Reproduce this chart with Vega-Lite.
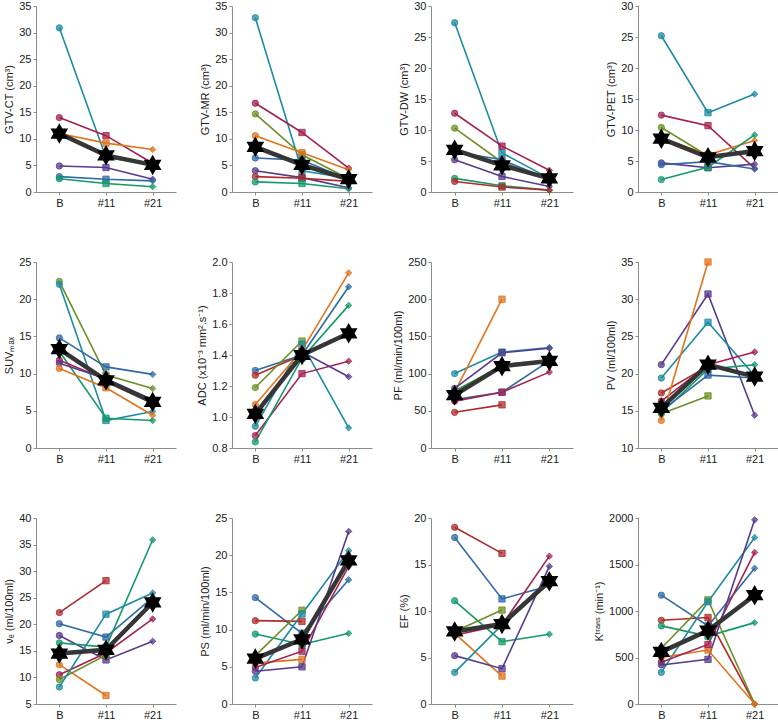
{
"$schema": "https://vega.github.io/schema/vega-lite/v6.json",
"padding": {"left": 3, "top": 0, "right": 0, "bottom": 0},
"background": "white",
"config": {
  "view": {"stroke": null},
  "font": "Liberation Sans",
  "legend": {"disable": true},
  "range": {"category": ["#2e6aa5", "#1d8ca0", "#a3224f", "#e0741c", "#6c8f25", "#139a68", "#573a8c", "#b02a2a"]},
  "axis": {"grid": false, "labelFont": "Liberation Sans", "titleFont": "Liberation Sans", "labelFontSize": 11, "titleFontSize": 11, "titleFontWeight": "normal", "domainColor": "#8c8c8c", "tickColor": "#8c8c8c", "tickSize": 3, "labelColor": "#1a1a1a", "titleColor": "#1a1a1a", "labelPadding": 2, "titlePadding": 4}
},
"datasets": {
  "ct": [
    {"s":"P2","t":"B","v":30.9},{"s":"P2","t":"#11","v":6.5},{"s":"P2","t":"#21","v":5.2},
    {"s":"P3","t":"B","v":14.0},{"s":"P3","t":"#11","v":10.6},{"s":"P3","t":"#21","v":5.4},
    {"s":"P4","t":"B","v":11.0},{"s":"P4","t":"#11","v":9.2},{"s":"P4","t":"#21","v":8.0},
    {"s":"P7","t":"B","v":4.9},{"s":"P7","t":"#11","v":4.6},{"s":"P7","t":"#21","v":2.4},
    {"s":"P1","t":"B","v":2.9},{"s":"P1","t":"#11","v":2.4},{"s":"P1","t":"#21","v":2.1},
    {"s":"P6","t":"B","v":2.5},{"s":"P6","t":"#11","v":1.6},{"s":"P6","t":"#21","v":1.0},
    {"s":"M","t":"B","v":11.0},{"s":"M","t":"#11","v":6.9},{"s":"M","t":"#21","v":5.1}
  ],
  "mr": [
    {"s":"P2","t":"B","v":32.8},{"s":"P2","t":"#11","v":4.0},{"s":"P2","t":"#21","v":2.6},
    {"s":"P3","t":"B","v":16.7},{"s":"P3","t":"#11","v":11.2},{"s":"P3","t":"#21","v":4.5},
    {"s":"P5","t":"B","v":14.7},{"s":"P5","t":"#11","v":7.0},{"s":"P5","t":"#21","v":2.5},
    {"s":"P4","t":"B","v":10.6},{"s":"P4","t":"#11","v":7.4},{"s":"P4","t":"#21","v":4.2},
    {"s":"P1","t":"B","v":6.4},{"s":"P1","t":"#11","v":6.0},{"s":"P1","t":"#21","v":2.3},
    {"s":"P7","t":"B","v":4.0},{"s":"P7","t":"#11","v":2.7},{"s":"P7","t":"#21","v":0.8},
    {"s":"P8","t":"B","v":2.9},{"s":"P8","t":"#11","v":2.6},{"s":"P8","t":"#21","v":2.0},
    {"s":"P6","t":"B","v":1.9},{"s":"P6","t":"#11","v":1.6},{"s":"P6","t":"#21","v":0.6},
    {"s":"M","t":"B","v":8.5},{"s":"M","t":"#11","v":5.1},{"s":"M","t":"#21","v":2.4}
  ],
  "dw": [
    {"s":"P2","t":"B","v":27.3},{"s":"P2","t":"#11","v":6.3},{"s":"P2","t":"#21","v":2.2},
    {"s":"P3","t":"B","v":12.7},{"s":"P3","t":"#11","v":7.4},{"s":"P3","t":"#21","v":3.5},
    {"s":"P5","t":"B","v":10.3},{"s":"P5","t":"#11","v":4.8},{"s":"P5","t":"#21","v":2.2},
    {"s":"P4","t":"B","v":6.7},{"s":"P4","t":"#11","v":4.5},{"s":"P4","t":"#21","v":2.2},
    {"s":"P1","t":"B","v":6.5},{"s":"P1","t":"#11","v":5.2},{"s":"P1","t":"#21","v":2.0},
    {"s":"P7","t":"B","v":5.2},{"s":"P7","t":"#11","v":2.5},{"s":"P7","t":"#21","v":0.9},
    {"s":"P6","t":"B","v":2.2},{"s":"P6","t":"#11","v":1.0},{"s":"P6","t":"#21","v":0.3},
    {"s":"P8","t":"B","v":1.7},{"s":"P8","t":"#11","v":0.8},{"s":"P8","t":"#21","v":0.3},
    {"s":"M","t":"B","v":6.8},{"s":"M","t":"#11","v":4.3},{"s":"M","t":"#21","v":2.2}
  ],
  "pet": [
    {"s":"P2","t":"B","v":25.2},{"s":"P2","t":"#11","v":12.8},{"s":"P2","t":"#21","v":15.8},
    {"s":"P3","t":"B","v":12.4},{"s":"P3","t":"#11","v":10.7},{"s":"P3","t":"#21","v":3.8},
    {"s":"P5","t":"B","v":10.4},{"s":"P5","t":"#11","v":5.8},{"s":"P5","t":"#21","v":6.3},
    {"s":"P4","t":"B","v":8.8},{"s":"P4","t":"#11","v":6.0},{"s":"P4","t":"#21","v":8.3},
    {"s":"P7","t":"B","v":4.7},{"s":"P7","t":"#11","v":3.9},{"s":"P7","t":"#21","v":4.5},
    {"s":"P1","t":"B","v":4.4},{"s":"P1","t":"#11","v":4.9},{"s":"P1","t":"#21","v":3.7},
    {"s":"P6","t":"B","v":2.0},{"s":"P6","t":"#11","v":4.0},{"s":"P6","t":"#21","v":9.2},
    {"s":"M","t":"B","v":8.6},{"s":"M","t":"#11","v":5.6},{"s":"M","t":"#21","v":6.6}
  ],
  "suv": [
    {"s":"P5","t":"B","v":22.4},{"s":"P5","t":"#11","v":9.8},{"s":"P5","t":"#21","v":8.0},
    {"s":"P2","t":"B","v":22.0},{"s":"P2","t":"#11","v":3.7},{"s":"P2","t":"#21","v":4.9},
    {"s":"P1","t":"B","v":14.8},{"s":"P1","t":"#11","v":10.9},{"s":"P1","t":"#21","v":9.9},
    {"s":"P6","t":"B","v":13.0},{"s":"P6","t":"#11","v":4.0},{"s":"P6","t":"#21","v":3.7},
    {"s":"P3","t":"B","v":11.8},{"s":"P3","t":"#11","v":9.2},{"s":"P3","t":"#21","v":6.3},
    {"s":"P7","t":"B","v":11.4},{"s":"P7","t":"#11","v":9.3},{"s":"P7","t":"#21","v":6.5},
    {"s":"P4","t":"B","v":10.7},{"s":"P4","t":"#11","v":8.1},{"s":"P4","t":"#21","v":4.4},
    {"s":"M","t":"B","v":13.3},{"s":"M","t":"#11","v":9.1},{"s":"M","t":"#21","v":6.2}
  ],
  "adc": [
    {"s":"P1","t":"B","v":1.30},{"s":"P1","t":"#11","v":1.40},{"s":"P1","t":"#21","v":1.84},
    {"s":"P8","t":"B","v":1.27},{"s":"P8","t":"#11","v":1.40},
    {"s":"P5","t":"B","v":1.19},{"s":"P5","t":"#11","v":1.49},
    {"s":"P2","t":"B","v":0.94},{"s":"P2","t":"#11","v":1.47},{"s":"P2","t":"#21","v":0.93},
    {"s":"P3","t":"B","v":0.88},{"s":"P3","t":"#11","v":1.28},{"s":"P3","t":"#21","v":1.36},
    {"s":"P6","t":"B","v":0.84},{"s":"P6","t":"#11","v":1.38},{"s":"P6","t":"#21","v":1.72},
    {"s":"P4","t":"B","v":1.08},{"s":"P4","t":"#11","v":1.43},{"s":"P4","t":"#21","v":1.93},
    {"s":"P7","t":"B","v":1.00},{"s":"P7","t":"#11","v":1.42},{"s":"P7","t":"#21","v":1.26},
    {"s":"M","t":"B","v":1.02},{"s":"M","t":"#11","v":1.40},{"s":"M","t":"#21","v":1.54}
  ],
  "pf": [
    {"s":"P2","t":"B","v":100},{"s":"P2","t":"#11","v":129},{"s":"P2","t":"#21","v":135},
    {"s":"P4","t":"B","v":75},{"s":"P4","t":"#11","v":200},
    {"s":"P7","t":"B","v":80},{"s":"P7","t":"#11","v":128},{"s":"P7","t":"#21","v":134},
    {"s":"P5","t":"B","v":77},{"s":"P5","t":"#11","v":110},
    {"s":"P6","t":"B","v":75},{"s":"P6","t":"#11","v":112},{"s":"P6","t":"#21","v":118},
    {"s":"P1","t":"B","v":65},{"s":"P1","t":"#11","v":75},{"s":"P1","t":"#21","v":117},
    {"s":"P3","t":"B","v":63},{"s":"P3","t":"#11","v":75},{"s":"P3","t":"#21","v":102},
    {"s":"P8","t":"B","v":48},{"s":"P8","t":"#11","v":58},
    {"s":"M","t":"B","v":71},{"s":"M","t":"#11","v":110},{"s":"M","t":"#21","v":117}
  ],
  "pv": [
    {"s":"P7","t":"B","v":21.2},{"s":"P7","t":"#11","v":30.7},{"s":"P7","t":"#21","v":14.4},
    {"s":"P2","t":"B","v":19.4},{"s":"P2","t":"#11","v":26.9},{"s":"P2","t":"#21","v":19.7},
    {"s":"P8","t":"B","v":17.4},{"s":"P8","t":"#11","v":21.0},
    {"s":"P3","t":"B","v":16.3},{"s":"P3","t":"#11","v":21.2},{"s":"P3","t":"#21","v":22.9},
    {"s":"P6","t":"B","v":14.7},{"s":"P6","t":"#11","v":20.6},{"s":"P6","t":"#21","v":21.2},
    {"s":"P1","t":"B","v":15.0},{"s":"P1","t":"#11","v":19.8},{"s":"P1","t":"#21","v":19.4},
    {"s":"P5","t":"B","v":14.6},{"s":"P5","t":"#11","v":17.0},
    {"s":"P4","t":"B","v":13.7},{"s":"P4","t":"#11","v":35.0},
    {"s":"M","t":"B","v":15.4},{"s":"M","t":"#11","v":21.2},{"s":"M","t":"#21","v":19.6}
  ],
  "ve": [
    {"s":"P8","t":"B","v":22.2},{"s":"P8","t":"#11","v":28.2},
    {"s":"P1","t":"B","v":20.1},{"s":"P1","t":"#11","v":17.6},{"s":"P1","t":"#21","v":25.0},
    {"s":"P7","t":"B","v":17.9},{"s":"P7","t":"#11","v":13.3},{"s":"P7","t":"#21","v":16.8},
    {"s":"P6","t":"B","v":16.5},{"s":"P6","t":"#11","v":15.7},{"s":"P6","t":"#21","v":35.9},
    {"s":"P4","t":"B","v":12.4},{"s":"P4","t":"#11","v":6.6},
    {"s":"P3","t":"B","v":10.5},{"s":"P3","t":"#11","v":14.6},{"s":"P3","t":"#21","v":21.0},
    {"s":"P5","t":"B","v":9.6},{"s":"P5","t":"#11","v":14.2},
    {"s":"P2","t":"B","v":8.2},{"s":"P2","t":"#11","v":21.9},{"s":"P2","t":"#21","v":25.9},
    {"s":"M","t":"B","v":14.5},{"s":"M","t":"#11","v":15.2},{"s":"M","t":"#21","v":24.1}
  ],
  "ps": [
    {"s":"P1","t":"B","v":14.3},{"s":"P1","t":"#11","v":9.5},{"s":"P1","t":"#21","v":16.7},
    {"s":"P8","t":"B","v":11.2},{"s":"P8","t":"#11","v":11.1},
    {"s":"P6","t":"B","v":9.4},{"s":"P6","t":"#11","v":8.0},{"s":"P6","t":"#21","v":9.5},
    {"s":"P5","t":"B","v":6.5},{"s":"P5","t":"#11","v":12.6},
    {"s":"P2","t":"B","v":3.5},{"s":"P2","t":"#11","v":12.1},{"s":"P2","t":"#21","v":20.6},
    {"s":"P4","t":"B","v":5.5},{"s":"P4","t":"#11","v":6.0},
    {"s":"P3","t":"B","v":4.9},{"s":"P3","t":"#11","v":7.1},{"s":"P3","t":"#21","v":18.5},
    {"s":"P7","t":"B","v":4.4},{"s":"P7","t":"#11","v":5.0},{"s":"P7","t":"#21","v":23.2},
    {"s":"M","t":"B","v":6.1},{"s":"M","t":"#11","v":8.7},{"s":"M","t":"#21","v":19.3}
  ],
  "ef": [
    {"s":"P8","t":"B","v":19.0},{"s":"P8","t":"#11","v":16.2},
    {"s":"P1","t":"B","v":17.9},{"s":"P1","t":"#11","v":11.3},{"s":"P1","t":"#21","v":12.7},
    {"s":"P6","t":"B","v":11.1},{"s":"P6","t":"#11","v":6.7},{"s":"P6","t":"#21","v":7.5},
    {"s":"P5","t":"B","v":7.8},{"s":"P5","t":"#11","v":10.1},
    {"s":"P3","t":"B","v":7.4},{"s":"P3","t":"#11","v":8.5},{"s":"P3","t":"#21","v":15.9},
    {"s":"P4","t":"B","v":7.6},{"s":"P4","t":"#11","v":3.0},
    {"s":"P7","t":"B","v":5.2},{"s":"P7","t":"#11","v":3.8},{"s":"P7","t":"#21","v":14.8},
    {"s":"P2","t":"B","v":3.4},{"s":"P2","t":"#11","v":8.5},{"s":"P2","t":"#21","v":13.0},
    {"s":"M","t":"B","v":7.8},{"s":"M","t":"#11","v":8.6},{"s":"M","t":"#21","v":13.2}
  ],
  "kt": [
    {"s":"P1","t":"B","v":1170},{"s":"P1","t":"#11","v":840},{"s":"P1","t":"#21","v":1460},
    {"s":"P8","t":"B","v":900},{"s":"P8","t":"#11","v":930},{"s":"P8","t":"#21","v":0},
    {"s":"P6","t":"B","v":840},{"s":"P6","t":"#11","v":730},{"s":"P6","t":"#21","v":875},
    {"s":"P5","t":"B","v":600},{"s":"P5","t":"#11","v":1120},{"s":"P5","t":"#21","v":0},
    {"s":"P2","t":"B","v":340},{"s":"P2","t":"#11","v":1100},{"s":"P2","t":"#21","v":1790},
    {"s":"P4","t":"B","v":500},{"s":"P4","t":"#11","v":580},{"s":"P4","t":"#21","v":0},
    {"s":"P3","t":"B","v":450},{"s":"P3","t":"#11","v":640},{"s":"P3","t":"#21","v":1630},
    {"s":"P7","t":"B","v":420},{"s":"P7","t":"#11","v":480},{"s":"P7","t":"#21","v":1980},
    {"s":"M","t":"B","v":560},{"s":"M","t":"#11","v":790},{"s":"M","t":"#21","v":1170}
  ]
},
"columns": 4,
"align": "each",
"spacing": {"row": 48, "column": 20},
"concat": [
  {"width":140,"height":186,"data":{"name":"ct"},
   "encoding":{"x":{"field":"t","type":"ordinal","sort":["B","#11","#21"],"scale":{"type":"point","padding":0.5},"axis":{"title":null,"labelAngle":0}},
     "y":{"field":"v","type":"quantitative","scale":{"domain":[0,35],"nice":false,"zero":false},"axis":{"title":"GTV-CT (cm³)","values":[0,5,10,15,20,25,30,35]}}},
   "layer":[
     {"transform":[{"filter":"datum.s!=='M'"}],"mark":{"type":"line","strokeWidth":1.6},"encoding":{"color":{"field":"s","type":"nominal"}}},
     {"transform":[{"filter":"datum.s!=='M'"}],"mark":{"type":"point","filled":true,"size":40,"opacity":1,"fillOpacity":0.75,"strokeWidth":0.8},"encoding":{"fill":{"field":"s","type":"nominal"},"stroke":{"field":"s","type":"nominal"},"shape":{"field":"t","type":"nominal","scale":{"domain":["B","#11","#21"],"range":["circle","square","diamond"]}}}},
     {"transform":[{"filter":"datum.s==='M'"}],"mark":{"type":"line","color":"#363636","strokeWidth":4.5},"encoding":{}},
     {"transform":[{"filter":"datum.s==='M'"}],"mark":{"type":"point","shape":"M0,-1L0.866,0.5L-0.866,0.5ZM0,1L-0.866,-0.5L0.866,-0.5Z","filled":true,"color":"#000","opacity":1,"size":420},"encoding":{}}
   ]},
  {"width":140,"height":186,"data":{"name":"mr"},
   "encoding":{"x":{"field":"t","type":"ordinal","sort":["B","#11","#21"],"scale":{"type":"point","padding":0.5},"axis":{"title":null,"labelAngle":0}},
     "y":{"field":"v","type":"quantitative","scale":{"domain":[0,35],"nice":false,"zero":false},"axis":{"title":"GTV-MR (cm³)","values":[0,5,10,15,20,25,30,35]}}},
   "layer":[
     {"transform":[{"filter":"datum.s!=='M'"}],"mark":{"type":"line","strokeWidth":1.6},"encoding":{"color":{"field":"s","type":"nominal"}}},
     {"transform":[{"filter":"datum.s!=='M'"}],"mark":{"type":"point","filled":true,"size":40,"opacity":1,"fillOpacity":0.75,"strokeWidth":0.8},"encoding":{"fill":{"field":"s","type":"nominal"},"stroke":{"field":"s","type":"nominal"},"shape":{"field":"t","type":"nominal","scale":{"domain":["B","#11","#21"],"range":["circle","square","diamond"]}}}},
     {"transform":[{"filter":"datum.s==='M'"}],"mark":{"type":"line","color":"#363636","strokeWidth":4.5},"encoding":{}},
     {"transform":[{"filter":"datum.s==='M'"}],"mark":{"type":"point","shape":"M0,-1L0.866,0.5L-0.866,0.5ZM0,1L-0.866,-0.5L0.866,-0.5Z","filled":true,"color":"#000","opacity":1,"size":420},"encoding":{}}
   ]},
  {"width":142,"height":186,"data":{"name":"dw"},
   "encoding":{"x":{"field":"t","type":"ordinal","sort":["B","#11","#21"],"scale":{"type":"point","padding":0.5},"axis":{"title":null,"labelAngle":0}},
     "y":{"field":"v","type":"quantitative","scale":{"domain":[0,30],"nice":false,"zero":false},"axis":{"title":"GTV-DW (cm³)","values":[0,5,10,15,20,25,30]}}},
   "layer":[
     {"transform":[{"filter":"datum.s!=='M'"}],"mark":{"type":"line","strokeWidth":1.6},"encoding":{"color":{"field":"s","type":"nominal"}}},
     {"transform":[{"filter":"datum.s!=='M'"}],"mark":{"type":"point","filled":true,"size":40,"opacity":1,"fillOpacity":0.75,"strokeWidth":0.8},"encoding":{"fill":{"field":"s","type":"nominal"},"stroke":{"field":"s","type":"nominal"},"shape":{"field":"t","type":"nominal","scale":{"domain":["B","#11","#21"],"range":["circle","square","diamond"]}}}},
     {"transform":[{"filter":"datum.s==='M'"}],"mark":{"type":"line","color":"#363636","strokeWidth":4.5},"encoding":{}},
     {"transform":[{"filter":"datum.s==='M'"}],"mark":{"type":"point","shape":"M0,-1L0.866,0.5L-0.866,0.5ZM0,1L-0.866,-0.5L0.866,-0.5Z","filled":true,"color":"#000","opacity":1,"size":420},"encoding":{}}
   ]},
  {"width":140,"height":186,"data":{"name":"pet"},
   "encoding":{"x":{"field":"t","type":"ordinal","sort":["B","#11","#21"],"scale":{"type":"point","padding":0.5},"axis":{"title":null,"labelAngle":0}},
     "y":{"field":"v","type":"quantitative","scale":{"domain":[0,30],"nice":false,"zero":false},"axis":{"title":"GTV-PET (cm³)","values":[0,5,10,15,20,25,30]}}},
   "layer":[
     {"transform":[{"filter":"datum.s!=='M'"}],"mark":{"type":"line","strokeWidth":1.6},"encoding":{"color":{"field":"s","type":"nominal"}}},
     {"transform":[{"filter":"datum.s!=='M'"}],"mark":{"type":"point","filled":true,"size":40,"opacity":1,"fillOpacity":0.75,"strokeWidth":0.8},"encoding":{"fill":{"field":"s","type":"nominal"},"stroke":{"field":"s","type":"nominal"},"shape":{"field":"t","type":"nominal","scale":{"domain":["B","#11","#21"],"range":["circle","square","diamond"]}}}},
     {"transform":[{"filter":"datum.s==='M'"}],"mark":{"type":"line","color":"#363636","strokeWidth":4.5},"encoding":{}},
     {"transform":[{"filter":"datum.s==='M'"}],"mark":{"type":"point","shape":"M0,-1L0.866,0.5L-0.866,0.5ZM0,1L-0.866,-0.5L0.866,-0.5Z","filled":true,"color":"#000","opacity":1,"size":420},"encoding":{}}
   ]},
  {"width":140,"height":186,"data":{"name":"suv"},
   "encoding":{"x":{"field":"t","type":"ordinal","sort":["B","#11","#21"],"scale":{"type":"point","padding":0.5},"axis":{"title":null,"labelAngle":0}},
     "y":{"field":"v","type":"quantitative","scale":{"domain":[0,25],"nice":false,"zero":false},"axis":{"title":"SUVₘₐₓ","values":[0,5,10,15,20,25]}}},
   "layer":[
     {"transform":[{"filter":"datum.s!=='M'"}],"mark":{"type":"line","strokeWidth":1.6},"encoding":{"color":{"field":"s","type":"nominal"}}},
     {"transform":[{"filter":"datum.s!=='M'"}],"mark":{"type":"point","filled":true,"size":40,"opacity":1,"fillOpacity":0.75,"strokeWidth":0.8},"encoding":{"fill":{"field":"s","type":"nominal"},"stroke":{"field":"s","type":"nominal"},"shape":{"field":"t","type":"nominal","scale":{"domain":["B","#11","#21"],"range":["circle","square","diamond"]}}}},
     {"transform":[{"filter":"datum.s==='M'"}],"mark":{"type":"line","color":"#363636","strokeWidth":4.5},"encoding":{}},
     {"transform":[{"filter":"datum.s==='M'"}],"mark":{"type":"point","shape":"M0,-1L0.866,0.5L-0.866,0.5ZM0,1L-0.866,-0.5L0.866,-0.5Z","filled":true,"color":"#000","opacity":1,"size":420},"encoding":{}}
   ]},
  {"width":140,"height":186,"data":{"name":"adc"},
   "encoding":{"x":{"field":"t","type":"ordinal","sort":["B","#11","#21"],"scale":{"type":"point","padding":0.5},"axis":{"title":null,"labelAngle":0}},
     "y":{"field":"v","type":"quantitative","scale":{"domain":[0.8,2],"nice":false,"zero":false},"axis":{"title":"ADC (x10⁻³ mm².s⁻¹)","values":[0.8,1,1.2,1.4,1.6,1.8,2]}}},
   "layer":[
     {"transform":[{"filter":"datum.s!=='M'"}],"mark":{"type":"line","strokeWidth":1.6},"encoding":{"color":{"field":"s","type":"nominal"}}},
     {"transform":[{"filter":"datum.s!=='M'"}],"mark":{"type":"point","filled":true,"size":40,"opacity":1,"fillOpacity":0.75,"strokeWidth":0.8},"encoding":{"fill":{"field":"s","type":"nominal"},"stroke":{"field":"s","type":"nominal"},"shape":{"field":"t","type":"nominal","scale":{"domain":["B","#11","#21"],"range":["circle","square","diamond"]}}}},
     {"transform":[{"filter":"datum.s==='M'"}],"mark":{"type":"line","color":"#363636","strokeWidth":4.5},"encoding":{}},
     {"transform":[{"filter":"datum.s==='M'"}],"mark":{"type":"point","shape":"M0,-1L0.866,0.5L-0.866,0.5ZM0,1L-0.866,-0.5L0.866,-0.5Z","filled":true,"color":"#000","opacity":1,"size":420},"encoding":{}}
   ]},
  {"width":142,"height":186,"data":{"name":"pf"},
   "encoding":{"x":{"field":"t","type":"ordinal","sort":["B","#11","#21"],"scale":{"type":"point","padding":0.5},"axis":{"title":null,"labelAngle":0}},
     "y":{"field":"v","type":"quantitative","scale":{"domain":[0,250],"nice":false,"zero":false},"axis":{"title":"PF (ml/min/100ml)","values":[0,50,100,150,200,250]}}},
   "layer":[
     {"transform":[{"filter":"datum.s!=='M'"}],"mark":{"type":"line","strokeWidth":1.6},"encoding":{"color":{"field":"s","type":"nominal"}}},
     {"transform":[{"filter":"datum.s!=='M'"}],"mark":{"type":"point","filled":true,"size":40,"opacity":1,"fillOpacity":0.75,"strokeWidth":0.8},"encoding":{"fill":{"field":"s","type":"nominal"},"stroke":{"field":"s","type":"nominal"},"shape":{"field":"t","type":"nominal","scale":{"domain":["B","#11","#21"],"range":["circle","square","diamond"]}}}},
     {"transform":[{"filter":"datum.s==='M'"}],"mark":{"type":"line","color":"#363636","strokeWidth":4.5},"encoding":{}},
     {"transform":[{"filter":"datum.s==='M'"}],"mark":{"type":"point","shape":"M0,-1L0.866,0.5L-0.866,0.5ZM0,1L-0.866,-0.5L0.866,-0.5Z","filled":true,"color":"#000","opacity":1,"size":420},"encoding":{}}
   ]},
  {"width":140,"height":186,"data":{"name":"pv"},
   "encoding":{"x":{"field":"t","type":"ordinal","sort":["B","#11","#21"],"scale":{"type":"point","padding":0.5},"axis":{"title":null,"labelAngle":0}},
     "y":{"field":"v","type":"quantitative","scale":{"domain":[10,35],"nice":false,"zero":false},"axis":{"title":"PV (ml/100ml)","values":[10,15,20,25,30,35]}}},
   "layer":[
     {"transform":[{"filter":"datum.s!=='M'"}],"mark":{"type":"line","strokeWidth":1.6},"encoding":{"color":{"field":"s","type":"nominal"}}},
     {"transform":[{"filter":"datum.s!=='M'"}],"mark":{"type":"point","filled":true,"size":40,"opacity":1,"fillOpacity":0.75,"strokeWidth":0.8},"encoding":{"fill":{"field":"s","type":"nominal"},"stroke":{"field":"s","type":"nominal"},"shape":{"field":"t","type":"nominal","scale":{"domain":["B","#11","#21"],"range":["circle","square","diamond"]}}}},
     {"transform":[{"filter":"datum.s==='M'"}],"mark":{"type":"line","color":"#363636","strokeWidth":4.5},"encoding":{}},
     {"transform":[{"filter":"datum.s==='M'"}],"mark":{"type":"point","shape":"M0,-1L0.866,0.5L-0.866,0.5ZM0,1L-0.866,-0.5L0.866,-0.5Z","filled":true,"color":"#000","opacity":1,"size":420},"encoding":{}}
   ]},
  {"width":140,"height":186,"data":{"name":"ve"},
   "encoding":{"x":{"field":"t","type":"ordinal","sort":["B","#11","#21"],"scale":{"type":"point","padding":0.5},"axis":{"title":null,"labelAngle":0}},
     "y":{"field":"v","type":"quantitative","scale":{"domain":[5,40],"nice":false,"zero":false},"axis":{"title":"νₑ (ml/100ml)","values":[5,10,15,20,25,30,35,40]}}},
   "layer":[
     {"transform":[{"filter":"datum.s!=='M'"}],"mark":{"type":"line","strokeWidth":1.6},"encoding":{"color":{"field":"s","type":"nominal"}}},
     {"transform":[{"filter":"datum.s!=='M'"}],"mark":{"type":"point","filled":true,"size":40,"opacity":1,"fillOpacity":0.75,"strokeWidth":0.8},"encoding":{"fill":{"field":"s","type":"nominal"},"stroke":{"field":"s","type":"nominal"},"shape":{"field":"t","type":"nominal","scale":{"domain":["B","#11","#21"],"range":["circle","square","diamond"]}}}},
     {"transform":[{"filter":"datum.s==='M'"}],"mark":{"type":"line","color":"#363636","strokeWidth":4.5},"encoding":{}},
     {"transform":[{"filter":"datum.s==='M'"}],"mark":{"type":"point","shape":"M0,-1L0.866,0.5L-0.866,0.5ZM0,1L-0.866,-0.5L0.866,-0.5Z","filled":true,"color":"#000","opacity":1,"size":420},"encoding":{}}
   ]},
  {"width":140,"height":186,"data":{"name":"ps"},
   "encoding":{"x":{"field":"t","type":"ordinal","sort":["B","#11","#21"],"scale":{"type":"point","padding":0.5},"axis":{"title":null,"labelAngle":0}},
     "y":{"field":"v","type":"quantitative","scale":{"domain":[0,25],"nice":false,"zero":false},"axis":{"title":"PS (ml/min/100ml)","values":[0,5,10,15,20,25]}}},
   "layer":[
     {"transform":[{"filter":"datum.s!=='M'"}],"mark":{"type":"line","strokeWidth":1.6},"encoding":{"color":{"field":"s","type":"nominal"}}},
     {"transform":[{"filter":"datum.s!=='M'"}],"mark":{"type":"point","filled":true,"size":40,"opacity":1,"fillOpacity":0.75,"strokeWidth":0.8},"encoding":{"fill":{"field":"s","type":"nominal"},"stroke":{"field":"s","type":"nominal"},"shape":{"field":"t","type":"nominal","scale":{"domain":["B","#11","#21"],"range":["circle","square","diamond"]}}}},
     {"transform":[{"filter":"datum.s==='M'"}],"mark":{"type":"line","color":"#363636","strokeWidth":4.5},"encoding":{}},
     {"transform":[{"filter":"datum.s==='M'"}],"mark":{"type":"point","shape":"M0,-1L0.866,0.5L-0.866,0.5ZM0,1L-0.866,-0.5L0.866,-0.5Z","filled":true,"color":"#000","opacity":1,"size":420},"encoding":{}}
   ]},
  {"width":142,"height":186,"data":{"name":"ef"},
   "encoding":{"x":{"field":"t","type":"ordinal","sort":["B","#11","#21"],"scale":{"type":"point","padding":0.5},"axis":{"title":null,"labelAngle":0}},
     "y":{"field":"v","type":"quantitative","scale":{"domain":[0,20],"nice":false,"zero":false},"axis":{"title":"EF (%)","values":[0,5,10,15,20]}}},
   "layer":[
     {"transform":[{"filter":"datum.s!=='M'"}],"mark":{"type":"line","strokeWidth":1.6},"encoding":{"color":{"field":"s","type":"nominal"}}},
     {"transform":[{"filter":"datum.s!=='M'"}],"mark":{"type":"point","filled":true,"size":40,"opacity":1,"fillOpacity":0.75,"strokeWidth":0.8},"encoding":{"fill":{"field":"s","type":"nominal"},"stroke":{"field":"s","type":"nominal"},"shape":{"field":"t","type":"nominal","scale":{"domain":["B","#11","#21"],"range":["circle","square","diamond"]}}}},
     {"transform":[{"filter":"datum.s==='M'"}],"mark":{"type":"line","color":"#363636","strokeWidth":4.5},"encoding":{}},
     {"transform":[{"filter":"datum.s==='M'"}],"mark":{"type":"point","shape":"M0,-1L0.866,0.5L-0.866,0.5ZM0,1L-0.866,-0.5L0.866,-0.5Z","filled":true,"color":"#000","opacity":1,"size":420},"encoding":{}}
   ]},
  {"width":140,"height":186,"data":{"name":"kt"},
   "encoding":{"x":{"field":"t","type":"ordinal","sort":["B","#11","#21"],"scale":{"type":"point","padding":0.5},"axis":{"title":null,"labelAngle":0}},
     "y":{"field":"v","type":"quantitative","scale":{"domain":[0,2000],"nice":false,"zero":false},"axis":{"title":"Kᵗʳᵃⁿˢ (min⁻¹)","values":[0,500,1000,1500,2000],"format":"d"}}},
   "layer":[
     {"transform":[{"filter":"datum.s!=='M'"}],"mark":{"type":"line","strokeWidth":1.6},"encoding":{"color":{"field":"s","type":"nominal"}}},
     {"transform":[{"filter":"datum.s!=='M'"}],"mark":{"type":"point","filled":true,"size":40,"opacity":1,"fillOpacity":0.75,"strokeWidth":0.8},"encoding":{"fill":{"field":"s","type":"nominal"},"stroke":{"field":"s","type":"nominal"},"shape":{"field":"t","type":"nominal","scale":{"domain":["B","#11","#21"],"range":["circle","square","diamond"]}}}},
     {"transform":[{"filter":"datum.s==='M'"}],"mark":{"type":"line","color":"#363636","strokeWidth":4.5},"encoding":{}},
     {"transform":[{"filter":"datum.s==='M'"}],"mark":{"type":"point","shape":"M0,-1L0.866,0.5L-0.866,0.5ZM0,1L-0.866,-0.5L0.866,-0.5Z","filled":true,"color":"#000","opacity":1,"size":420},"encoding":{}}
   ]}
]
}
